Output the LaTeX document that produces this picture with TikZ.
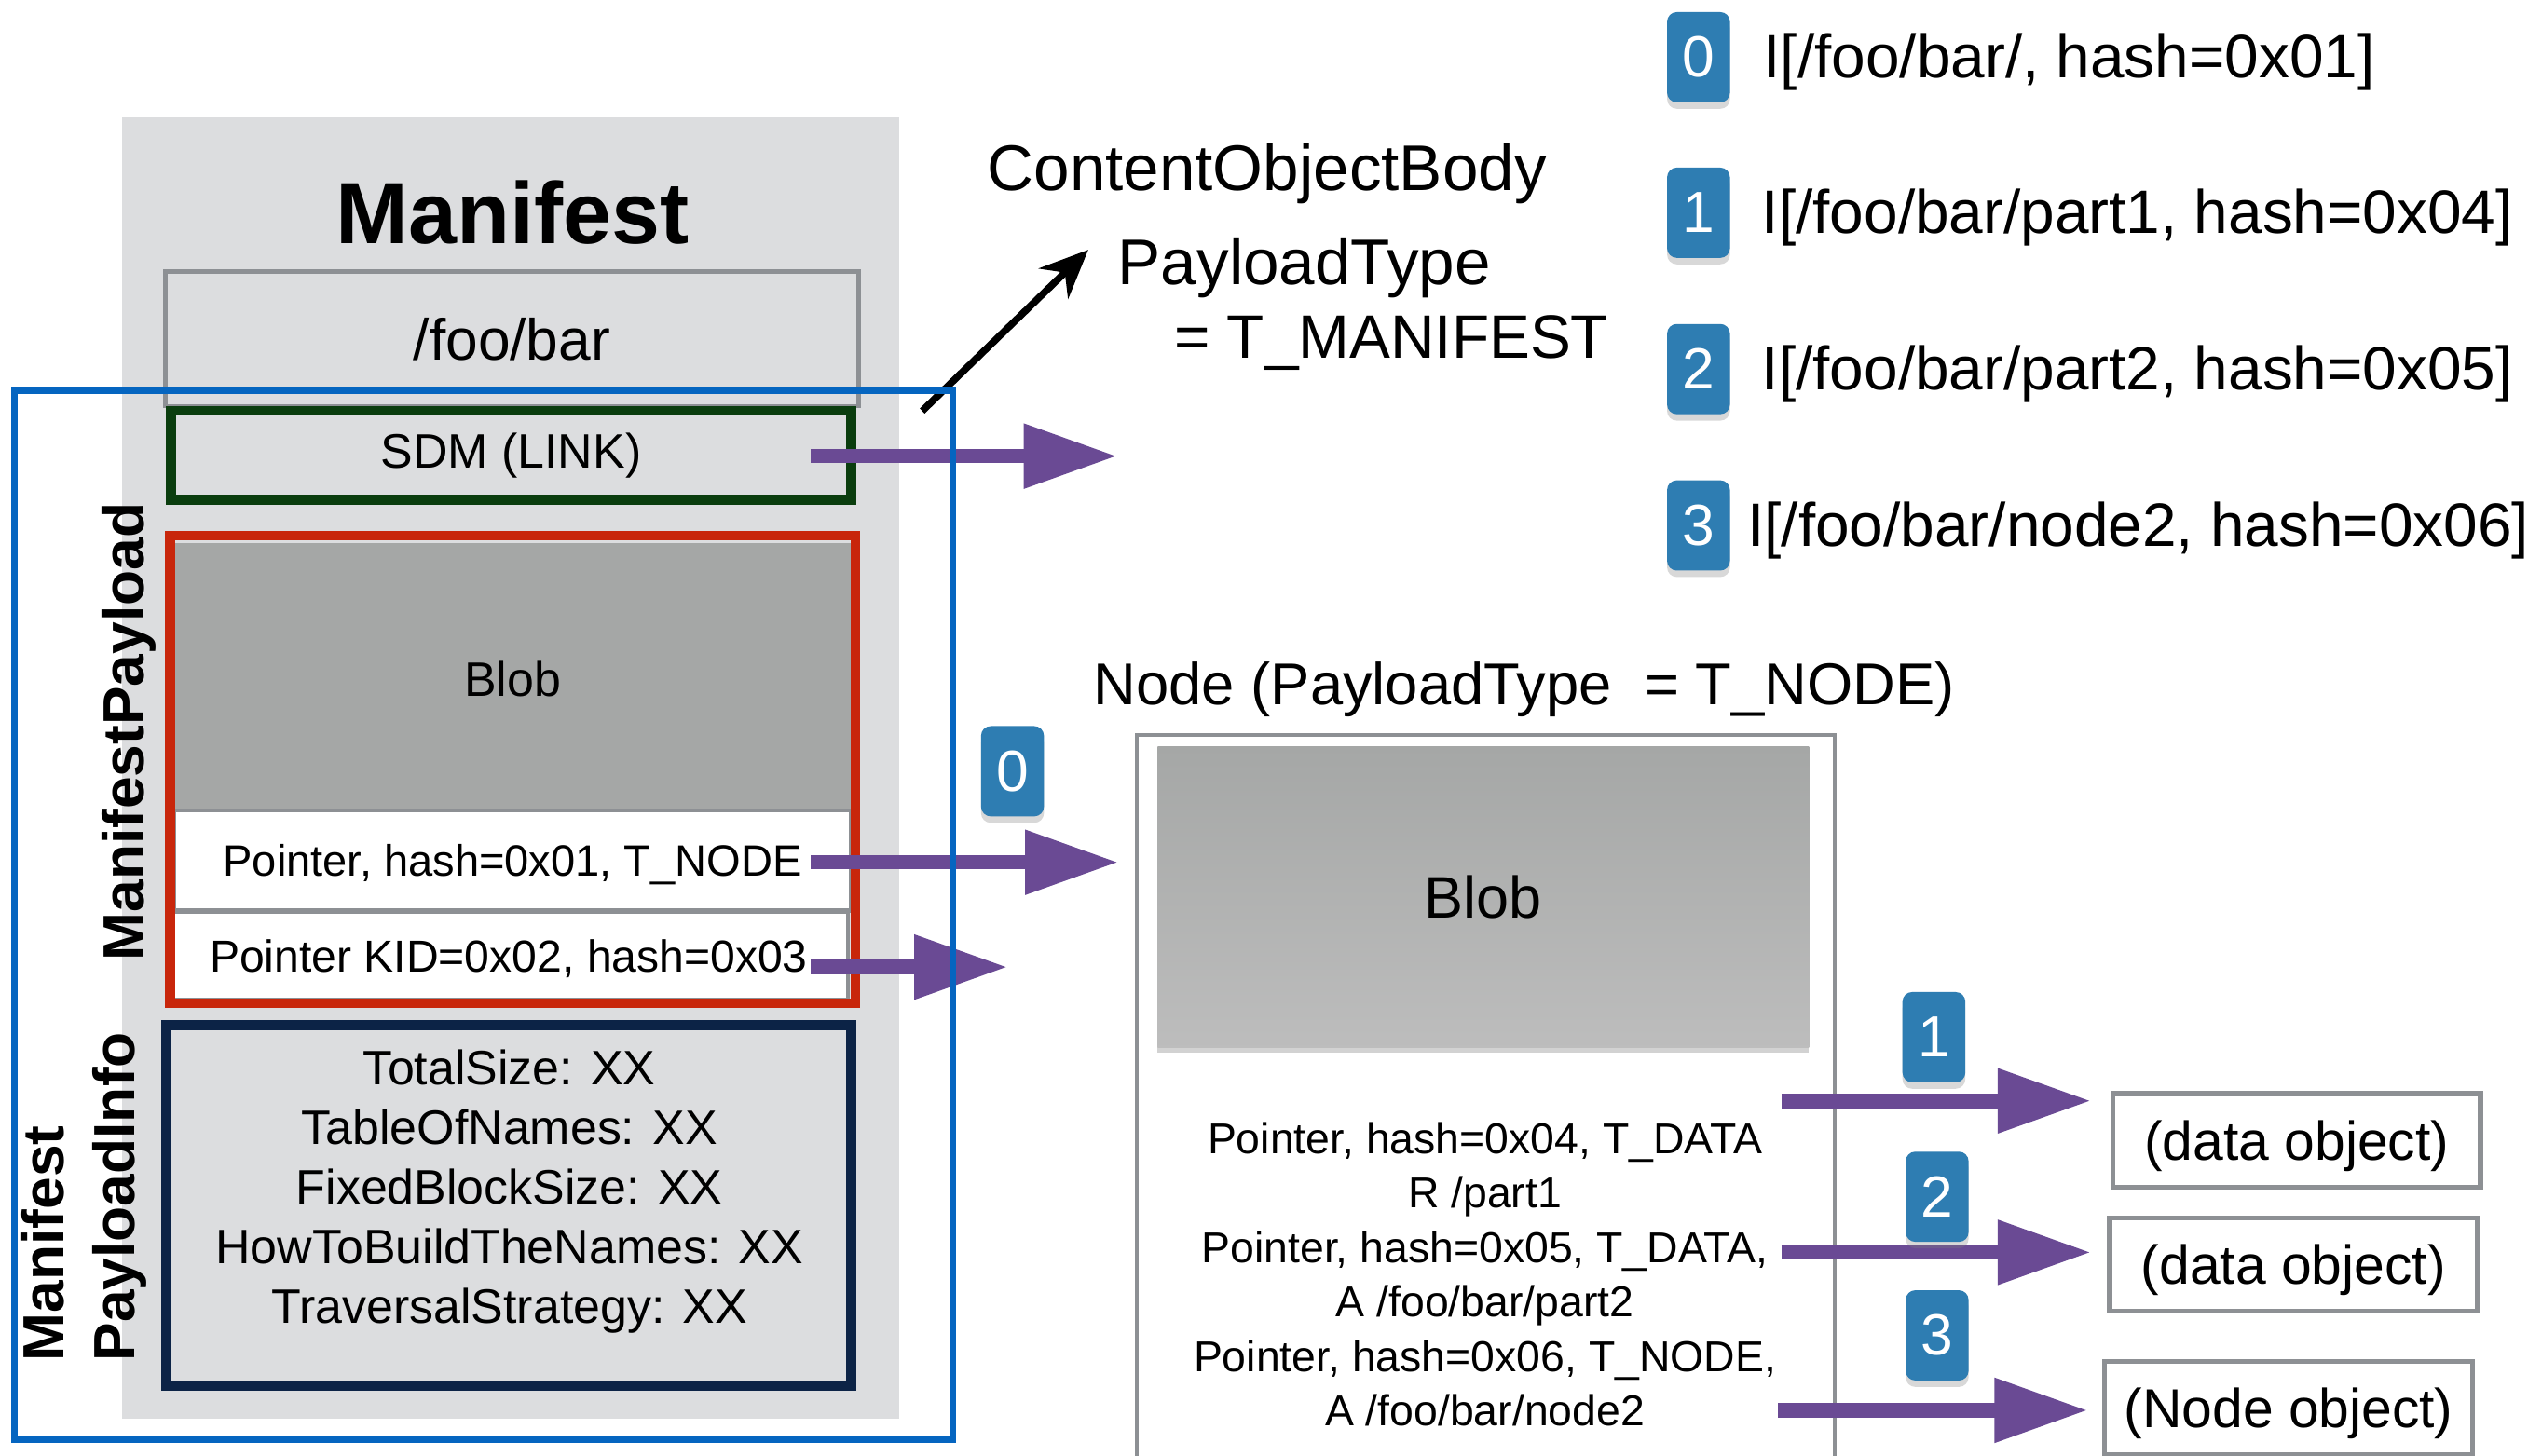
\documentclass[tikz,border=0pt]{standalone}
\usepackage{fontspec}
\setmainfont{Liberation Sans}
\usetikzlibrary{positioning,arrows.meta,shadows}

\definecolor{mangray}{HTML}{DCDDDF}
\definecolor{blobgray}{HTML}{A5A7A6}
\definecolor{edgegray}{HTML}{8D9094}
\definecolor{frameblue}{HTML}{0565C0}
\definecolor{linkgreen}{HTML}{0A3D0E}
\definecolor{payred}{HTML}{C8260B}
\definecolor{infonavy}{HTML}{0C2346}
\definecolor{ptrpurple}{HTML}{6A4A94}
\definecolor{badgeblue}{HTML}{2E7DB2}

\newcommand{\sz}[2]{\fontsize{#1}{#2}\selectfont}

\tikzset{
  ptr/.style={line width=4.5pt, draw=ptrpurple, -{Triangle[length=29pt,width=19pt]}},
  badge/.style={fill=badgeblue, rounded corners=3pt, minimum width=19.5pt, minimum height=28pt,
    text=white, font=\sz{18pt}{20pt}, drop shadow={shadow xshift=0pt, shadow yshift=-2pt, opacity=0.3}},
  rowbox/.style={draw=edgegray, line width=1.25pt, fill=white, minimum width=210pt, text depth=0pt},
  objbox/.style={draw=edgegray, line width=1.5pt, minimum width=114pt, minimum height=29pt, font=\sz{17pt}{20pt}, text depth=0pt},
  listtxt/.style={font=\sz{19pt}{22pt}}
}

\begin{document}
\begin{tikzpicture}[x=0.5pt, y=-0.5pt, inner sep=0pt]
    \fill[white] (0,0) rectangle (1568,903);
    \useasboundingbox (0,0) rectangle (1568,903);

    % manifest column
    \node[fill=mangray, minimum width=241pt, minimum height=403.5pt] (manbg) at (317,476.5) {};
    \node[font=\bfseries\sz{27pt}{30pt}] (title) at (318,132) {Manifest};
    \node[draw=edgegray, line width=1.25pt, minimum width=215pt, minimum height=41.75pt, font=\sz{18pt}{20pt}] (namebox) at (317.5,210.25) {/foo/bar};
    \node[draw=linkgreen, line width=3pt, fill=mangray, minimum width=211pt, minimum height=27.5pt, font=\sz{15pt}{18pt}] (sdm) at (317,282.5) {SDM (LINK)};

    \node[fill=blobgray, minimum width=210pt, minimum height=84pt, font=\sz{15pt}{18pt}, text depth=0pt] (mblob) at (318,421) {Blob};
    \node[rowbox, minimum height=31pt, font=\sz{13.6pt}{16pt}] (p1row) at (318,534) {Pointer, hash=0x01, T\_NODE};
    \node[rowbox, minimum width=210.5pt, minimum height=27pt, font=\sz{13.9pt}{16pt}] (p2row) at (315.5,593) {Pointer KID=0x02, hash=0x03};
    \node[draw=payred, line width=3pt, minimum width=212.5pt, minimum height=145pt] (payload) at (318,477.5) {};

    \node[draw=infonavy, line width=3pt, minimum width=212.5pt, minimum height=112pt] (infobox) at (315.5,748) {};
    \node[align=center, font=\sz{15pt}{18.5pt}] (infotext) at (316,739)
        {TotalSize: XX\\TableOfNames: XX\\FixedBlockSize: XX\\HowToBuildTheNames: XX\\TraversalStrategy: XX};

    \node[rotate=90, font=\bfseries\sz{18pt}{22pt}] (paylabel) at (80,454) {ManifestPayload};
    \node[rotate=90, align=left, font=\bfseries\sz{18pt}{22pt}] (infolabel) at (52,742.5) {Manifest\\PayloadInfo};

    % content object body
    \coordinate (linkFrom) at (572,255);
    \coordinate (linkTo) at (675,155);
    \draw[line width=2.2pt, -{Stealth[length=15pt,width=13pt]}] (linkFrom) -- (linkTo);
    \node[anchor=west, font=\sz{20pt}{24pt}] (cob) at (612,108) {ContentObjectBody};
    \node[anchor=west, font=\sz{20pt}{24pt}] (ptype) at (693,166) {PayloadType};
    \node[anchor=west, font=\sz{19pt}{24pt}] (tman) at (728,213) {= T\_MANIFEST};

    % name list
    \node[badge] (lb0) at (1053.5,35.5) {0};
    \node[badge] (lb1) at (1053.5,132) {1};
    \node[badge] (lb2) at (1053.5,229) {2};
    \node[badge] (lb3) at (1053.5,326) {3};
    \node[listtxt, right=10pt of lb0, yshift=-1.5pt] (l0) {I[/foo/bar/, hash=0x01]};
    \node[listtxt, right=9.5pt of lb1, yshift=-1.5pt] (l1) {I[/foo/bar/part1, hash=0x04]};
    \node[listtxt, right=9.5pt of lb2, yshift=-1.5pt] (l2) {I[/foo/bar/part2, hash=0x05]};
    \node[listtxt, right=5pt of lb3, yshift=-1.5pt] (l3) {I[/foo/bar/node2, hash=0x06]};

    % node object
    \node[anchor=west, font=\sz{18.3pt}{22pt}] (ntitle) at (678,428) {Node (PayloadType \ = T\_NODE)};
    \node[draw=edgegray, line width=1.25pt, minimum width=216.5pt, minimum height=252pt] (nodebox) at (921.5,708) {};
    \node[top color=blobgray, bottom color=black!26, minimum width=202pt, minimum height=93.5pt, font=\sz{18.2pt}{22pt},
        drop shadow={shadow xshift=0pt, shadow yshift=-1.5pt, opacity=0.35}] (nblob) at (920,556.5) {Blob};
    \node[align=center, font=\sz{13.4pt}{16.9pt}] (ntext) at (921,790.5)
        {Pointer, hash=0x04, T\_DATA\\R /part1\\Pointer, hash=0x05, T\_DATA,\\A /foo/bar/part2\\Pointer, hash=0x06, T\_NODE,\\A /foo/bar/node2};

    \node[objbox] (dobj1) at (1424.5,707.5) {(data object)};
    \node[objbox] (dobj2) at (1422.5,784.5) {(data object)};
    \node[objbox] (nobj) at (1419.5,873.5) {(Node object)};

    % pointer arrows
    \coordinate (sdmOut) at (503,283);
    \coordinate (sdmEnd) at (693,283);
    \coordinate (p1Out) at (503,535);
    \coordinate (p2Out) at (503,600);
    \coordinate (p2End) at (625,600);
    \coordinate (n1Out) at (1105,683);
    \coordinate (n2Out) at (1105,777);
    \coordinate (n3Out) at (1103,875);

    \draw[ptr] (sdmOut) -- (sdmEnd);
    \draw[ptr, shorten >=5pt] (p1Out) -- (p1Out -| nodebox.west);
    \draw[ptr] (p2Out) -- (p2End);
    \draw[ptr, shorten >=6pt] (n1Out) -- (n1Out -| dobj1.west);
    \draw[ptr, shorten >=5pt] (n2Out) -- (n2Out -| dobj2.west);
    \draw[ptr, shorten >=4.5pt] (n3Out) -- (n3Out -| nobj.west);

    \node[badge] (b0) at (628,478.5) {0};
    \node[badge] (b1) at (1199.5,643.5) {1};
    \node[badge] (b2) at (1201.5,742.5) {2};
    \node[badge] (b3) at (1201.5,828.5) {3};

    % outer frame
    \node[draw=frameblue, line width=2.2pt, minimum width=291pt, minimum height=325.5pt] (frame) at (300,567.5) {};
\end{tikzpicture}
\end{document}
